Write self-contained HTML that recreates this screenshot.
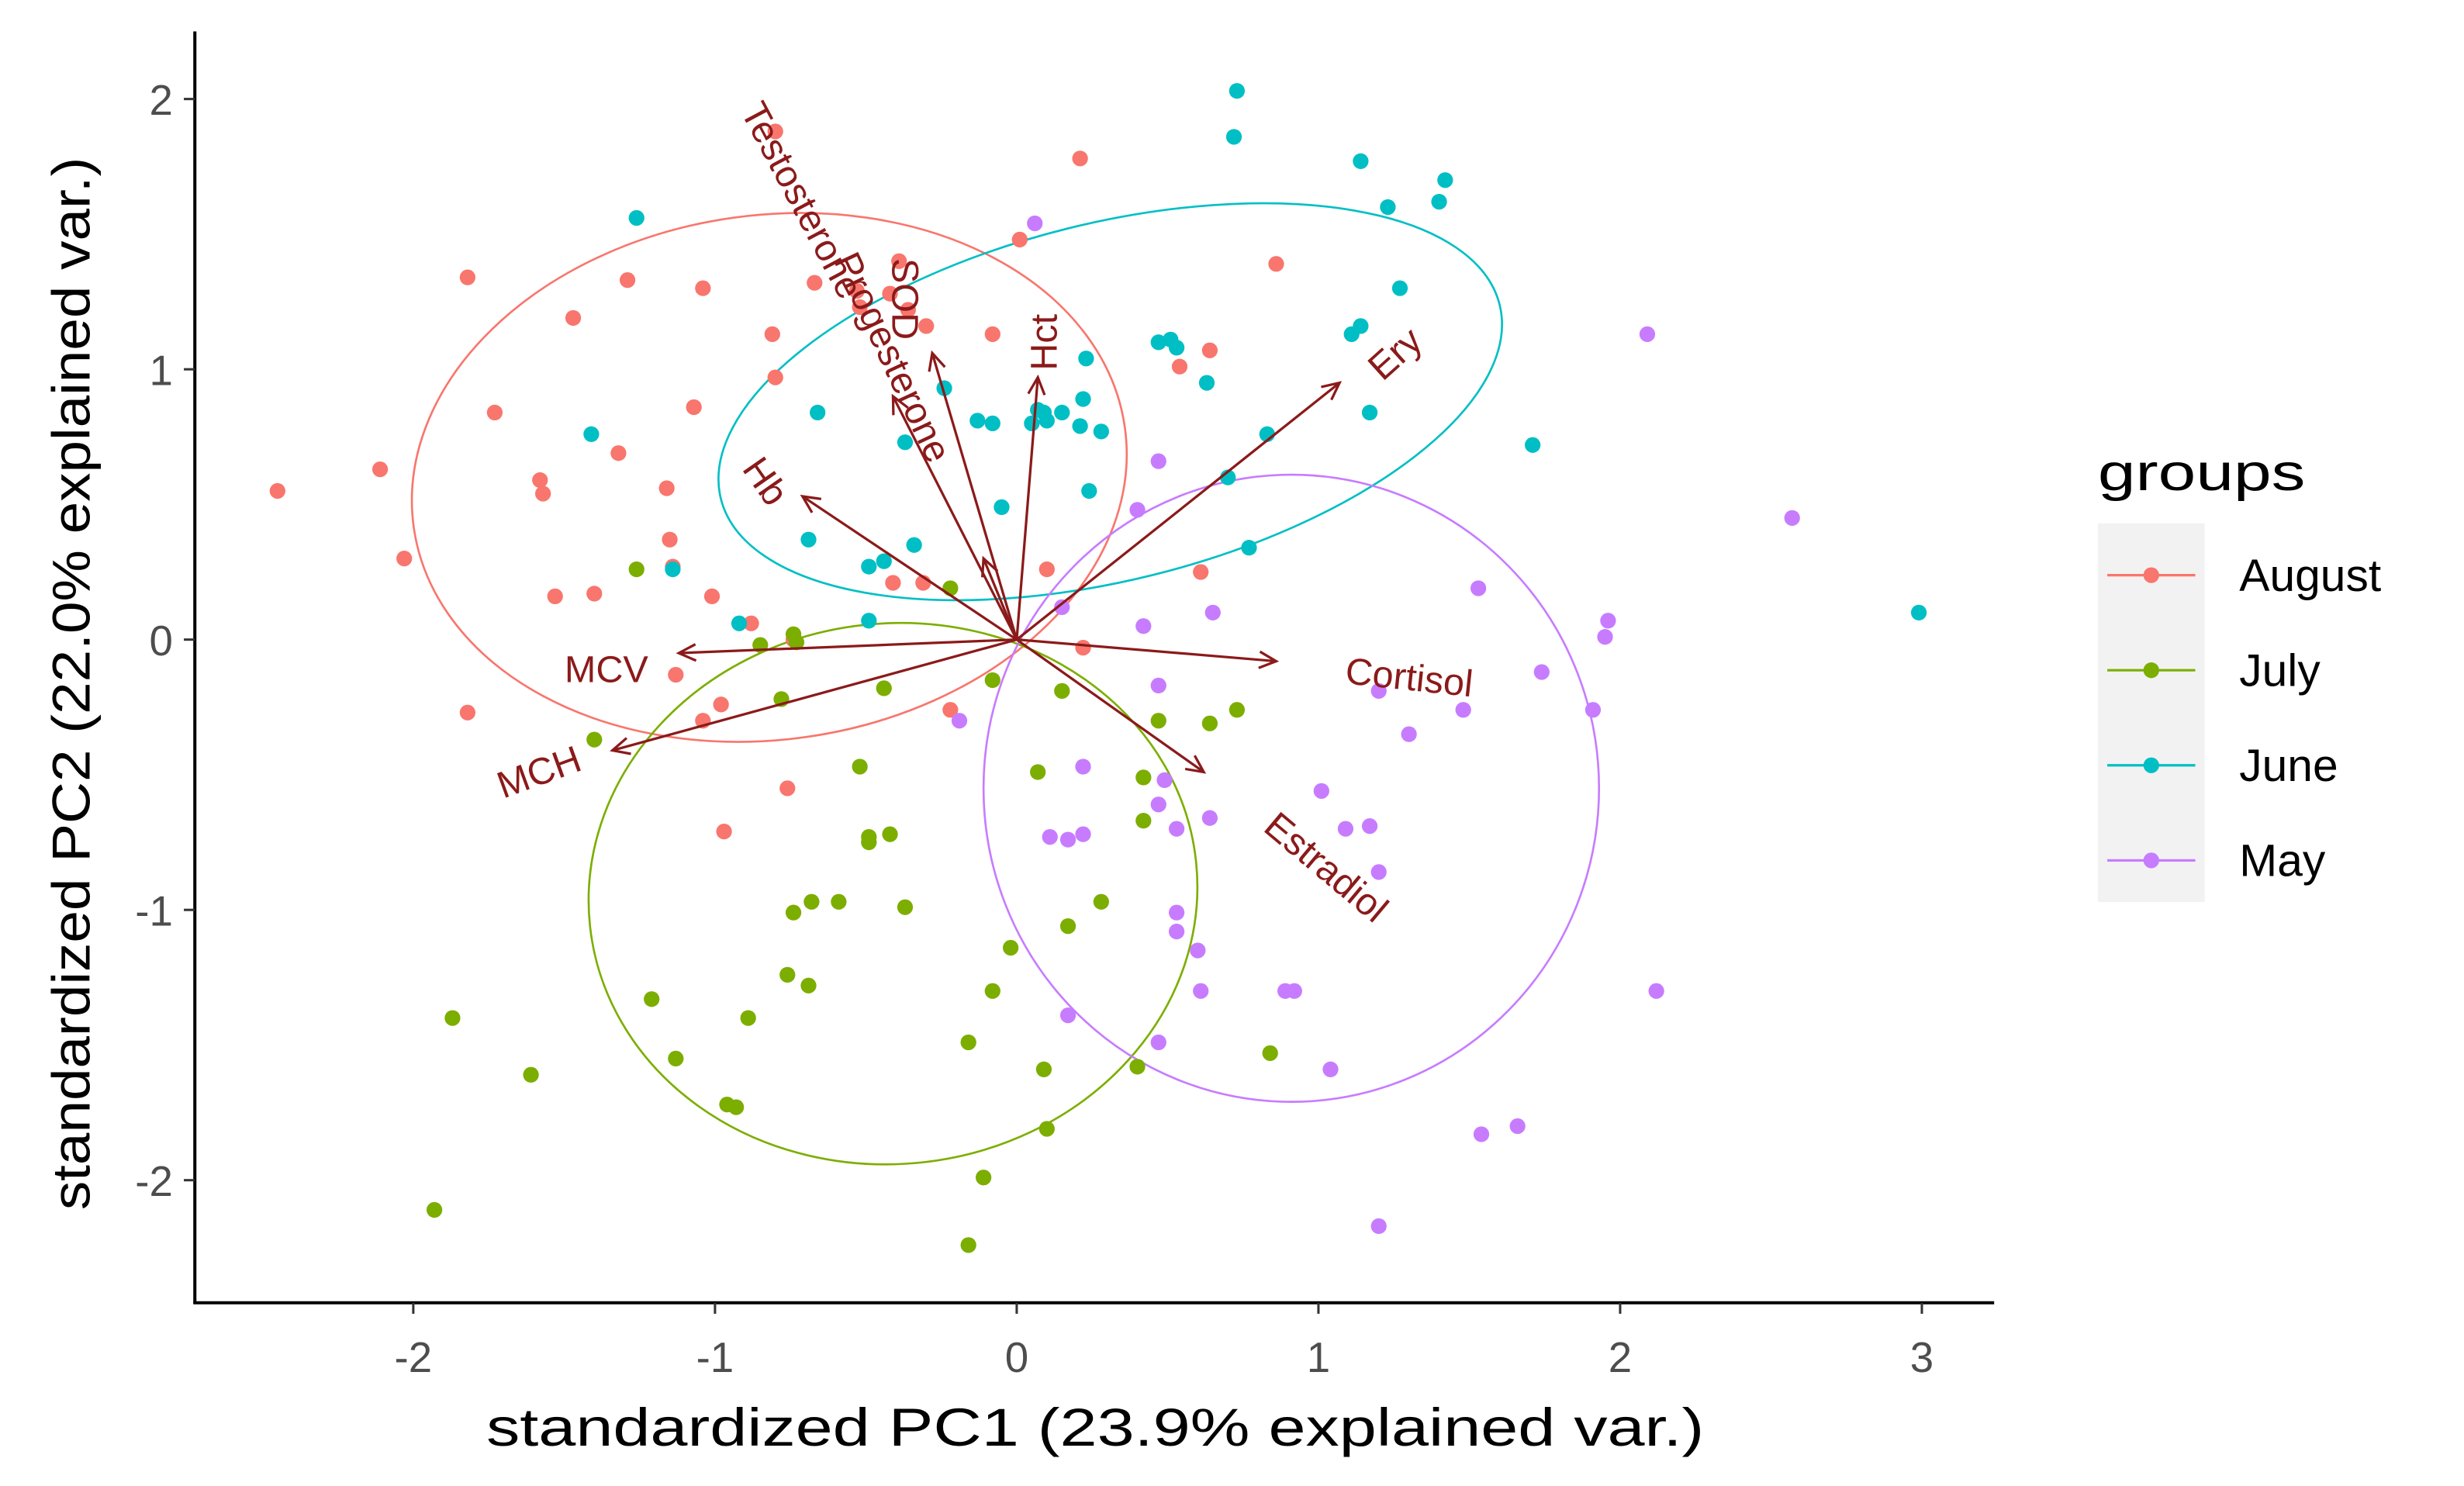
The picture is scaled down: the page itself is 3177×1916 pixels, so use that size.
<!DOCTYPE html>
<html><head><meta charset="utf-8"><style>
html,body{margin:0;padding:0;background:#fff;}
svg{display:block;font-family:"Liberation Sans",Arial,sans-serif;}
</style></head><body>
<svg id="chart" width="3177" height="1916" viewBox="0 0 1568 945.6" preserveAspectRatio="none" xmlns="http://www.w3.org/2000/svg">
<g id="ellipses"></g>
<g id="points"></g>
<g id="arrows"></g>
<g id="axes"></g>
<text x="697" y="920" font-size="34" text-anchor="middle" textLength="775" lengthAdjust="spacingAndGlyphs" fill="#000">standardized PC1 (23.9% explained var.)</text>
<text transform="translate(57,435) rotate(-90)" font-size="34" text-anchor="middle" textLength="670" lengthAdjust="spacingAndGlyphs" fill="#000">standardized PC2 (22.0% explained var.)</text>
<g>
<text x="1335" y="312" font-size="33" textLength="132" lengthAdjust="spacingAndGlyphs" fill="#000">groups</text>
<rect x="1335" y="333" width="68" height="241" fill="#F2F2F2"/>
<g id="legend-entries"></g>
</g>
</svg>
<script>
const groups = ["August","July","June","May"];
const colors = ["#F8766D","#7CAE00","#00BFC4","#C77CFF"];
const augustX = [-2.45,-2.11,-2.03,-1.82,-1.73,-1.58,-1.57,-1.53,-1.47,-1.40,-1.32,-1.29,-1.16,-1.15,-1.14,-1.07,-1.04,-1.01,-0.88,-0.81,-0.80,-0.80,-0.74,-0.67,-0.53,-0.52,-0.42,-0.41,-0.39,-0.36,-0.30,-0.22,-0.08,0.01,0.10,0.21,0.22,0.54,0.64,0.61,0.86,-0.76,-0.97,-1.82,-1.13,-1.04,-0.98,-0.31];
const augustY = [0.55,0.63,0.30,1.34,0.84,0.59,0.54,0.16,1.19,0.17,0.69,1.33,0.56,0.37,0.27,0.86,1.30,0.16,0.06,1.13,1.88,0.97,0.00,1.32,1.29,1.23,1.28,0.21,1.40,1.22,1.16,-0.26,1.13,1.48,0.26,1.78,-0.03,1.01,1.07,0.25,1.39,-0.55,-0.71,-0.27,-0.13,-0.30,-0.24,0.21];
const julyX = [-1.93,-1.87,-1.61,-1.40,-1.26,-1.21,-1.13,-0.96,-0.93,-0.89,-0.85,-0.78,-0.76,-0.74,-0.73,-0.69,-0.74,-0.68,-0.59,-0.52,-0.49,-0.49,-0.42,-0.37,-0.44,-0.22,-0.16,-0.11,-0.16,-0.08,-0.08,-0.02,0.07,0.09,0.10,0.17,0.15,0.28,0.40,0.42,0.42,0.47,0.64,0.73,0.84];
const julyY = [-2.11,-1.40,-1.61,-0.37,0.26,-1.33,-1.55,-1.72,-1.73,-1.40,-0.02,-0.22,-1.24,0.02,-0.01,-1.28,-1.01,-0.97,-0.97,-0.47,-0.75,-0.73,-0.72,-0.99,-0.18,0.19,-1.49,-1.99,-2.24,-1.30,-0.15,-1.14,-0.49,-1.59,-1.81,-1.06,-0.19,-0.97,-1.58,-0.67,-0.51,-0.30,-0.31,-0.26,-1.53];
const juneX = [-1.26,-1.41,-1.14,-0.92,-0.69,-0.66,-0.49,-0.49,-0.44,-0.34,-0.37,-0.24,-0.13,-0.08,-0.05,0.05,0.07,0.09,0.10,0.15,0.21,0.28,0.22,0.23,0.24,0.47,0.51,0.53,0.63,0.70,0.72,0.73,0.83,0.77,1.14,1.23,1.11,1.14,1.17,1.27,1.40,1.42,1.71,2.99];
const juneY = [1.56,0.76,0.26,0.06,0.37,0.84,0.07,0.27,0.29,0.35,0.73,0.93,0.81,0.80,0.49,0.80,0.85,0.84,0.81,0.84,0.79,0.77,0.89,1.04,0.55,1.10,1.11,1.08,0.95,0.60,1.86,2.03,0.76,0.34,1.77,1.60,1.13,1.16,0.84,1.30,1.62,1.70,0.72,0.10];
const mayX = [0.06,0.15,0.22,0.22,0.11,0.17,0.17,0.40,0.42,0.47,0.47,0.47,0.49,0.53,0.53,0.53,0.47,0.60,0.61,0.64,0.65,1.01,1.09,1.17,0.89,0.92,1.04,1.20,1.20,1.30,1.48,1.53,1.74,1.91,1.95,1.96,2.09,2.12,2.57,1.54,1.66,1.20,-0.19];
const mayY = [1.54,0.12,-0.47,-0.72,-0.73,-0.74,-1.39,0.48,0.05,0.66,-0.17,-0.61,-0.52,-1.01,-1.08,-0.70,-1.49,-1.15,-1.30,-0.66,0.10,-0.56,-0.70,-0.69,-1.30,-1.30,-1.59,-0.86,-0.19,-0.35,-0.26,0.19,-0.12,-0.26,0.01,0.07,1.13,-1.30,0.45,-1.83,-1.80,-2.17,-0.30];
const ellipseCX = [-0.82,-0.41,0.31,0.91];
const ellipseCY = [0.60,-0.94,0.88,-0.55];
const ellipseRX = [1.19,1.01,1.33,1.02];
const ellipseRY = [0.97,1.00,0.66,1.16];
const ellipseAngle = [-8,-6,-14,0];
const varNames = ["MCV","MCH","Hb","Testosterone","Progesterone","SOD","Hct","Ery","Cortisol","Estradiol"];
const loadX = [-1.12,-1.34,-0.71,-0.11,-0.41,-0.28,0.07,1.07,0.86,0.62];
const loadY = [-0.05,-0.41,0.53,0.30,0.90,1.06,0.97,0.95,-0.08,-0.49];
const labelX = [-1.36,-1.58,-0.84,-0.72,-0.42,-0.38,0.10,1.26,1.30,1.02];
const labelY = [-0.12,-0.50,0.58,1.62,1.04,1.26,1.10,1.05,-0.15,-0.85];
const labelRot = [0,-20,55,62,65,90,-90,-42,6,40];
const xTicks = [-2,-1,0,1,2,3];
const yTicks = [2,1,0,-1,-2];

const NS="http://www.w3.org/2000/svg";
const X0=647, XS=192, Y0=407, YS=172;
const sx=v=>X0+v*XS, sy=v=>Y0-v*YS;
function mk(tag,attrs,parent){const e=document.createElementNS(NS,tag);for(const k in attrs)e.setAttribute(k,attrs[k]);parent.appendChild(e);return e;}

const eg=document.getElementById('ellipses');
groups.forEach((g,i)=>{
  const e=mk('ellipse',{cx:sx(ellipseCX[i]),cy:sy(ellipseCY[i]),rx:ellipseRX[i]*XS,ry:ellipseRY[i]*YS,fill:'none',stroke:colors[i],'stroke-width':1.3,transform:`rotate(${ellipseAngle[i]} ${sx(ellipseCX[i])} ${sy(ellipseCY[i])})`},eg);
  
  
});
const pg=document.getElementById('points');
const allX=[augustX,julyX,juneX,mayX], allY=[augustY,julyY,juneY,mayY];
groups.forEach((g,i)=>{
  allX[i].forEach((v,j)=>{
    const c=mk('circle',{cx:sx(v),cy:sy(allY[i][j]),r:5,fill:colors[i]},pg);
    
    
  });
});
const ag=document.getElementById('arrows');
const AC="#8B1A1A";
varNames.forEach((n,i)=>{
  const x1=sx(0),y1=sy(0),x2=sx(loadX[i]),y2=sy(loadY[i]);
  const l=mk('line',{x1,y1,x2,y2,stroke:AC,'stroke-width':1.6},ag);
  
  
  const a=Math.atan2(y2-y1,x2-x1), h=12, s=0.45;
  const p=mk('polyline',{points:`${x2-h*Math.cos(a-s)},${y2-h*Math.sin(a-s)} ${x2},${y2} ${x2-h*Math.cos(a+s)},${y2-h*Math.sin(a+s)}`,fill:'none',stroke:AC,'stroke-width':1.6},ag);
  
  
  const t=mk('text',{x:sx(labelX[i]),y:sy(labelY[i]),'font-size':24,fill:AC,'text-anchor':'middle','dominant-baseline':'middle',transform:`rotate(${labelRot[i]} ${sx(labelX[i])} ${sy(labelY[i])})`},ag);
  t.textContent=n;
  
  
});
const ax=document.getElementById('axes');
let l1=mk('line',{x1:124,y1:20,x2:124,y2:829,stroke:'#000','stroke-width':2},ax);


let l2=mk('line',{x1:123,y1:829,x2:1269,y2:829,stroke:'#000','stroke-width':2},ax);


xTicks.forEach(v=>{
  const tk=mk('line',{x1:sx(v),y1:829,x2:sx(v),y2:836,stroke:'#333','stroke-width':1.5},ax);
  
  
  const t=mk('text',{x:sx(v),y:873,'font-size':27,fill:'#4D4D4D','text-anchor':'middle'},ax);
  t.textContent=v<0?'-'+Math.abs(v):String(v);
  
  
});
yTicks.forEach(v=>{
  const tk=mk('line',{x1:117,y1:sy(v),x2:124,y2:sy(v),stroke:'#333','stroke-width':1.5},ax);
  
  
  const t=mk('text',{x:110,y:sy(v)+10,'font-size':27,fill:'#4D4D4D','text-anchor':'end'},ax);
  t.textContent=v<0?'-'+Math.abs(v):String(v);
  
  
});
const lg=document.getElementById('legend-entries');
groups.forEach((g,i)=>{
  const y=366+i*60.5;
  const ln=mk('line',{x1:1341,y1:y,x2:1397,y2:y,stroke:colors[i],'stroke-width':1.6},lg);
  
  
  const c=mk('circle',{cx:1369,cy:y,r:5,fill:colors[i]},lg);
  
  
  const t=mk('text',{x:1425,y:y+10,'font-size':29,fill:'#000'},lg);
  t.textContent=g;
  
  
});
</script>
</body></html>
